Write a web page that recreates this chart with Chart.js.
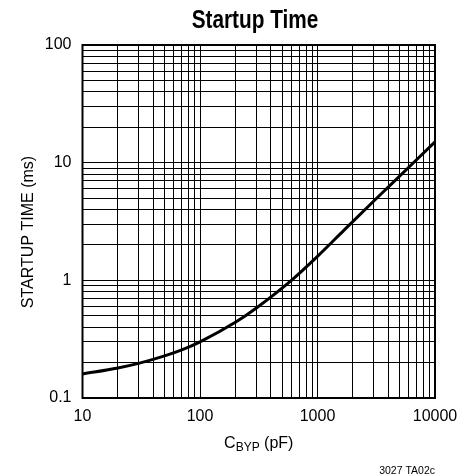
<!DOCTYPE html>
<html>
<head>
<meta charset="utf-8">
<script src="https://cdn.jsdelivr.net/npm/chart.js@4/dist/chart.umd.min.js"></script>
<style>
  html, body { margin: 0; padding: 0; background: #fff; }
  #wrap { width: 467px; height: 476px; }
</style>
</head>
<body>
<div id="wrap"><canvas id="c" width="467" height="476"></canvas></div>
<script>
// ---- Data ----
const capacitancePF = [10, 20, 30, 50, 70, 100, 200, 300, 600, 1000, 1700, 3000, 4000, 10000];
const startupTimeMs = [0.16, 0.18, 0.197, 0.228, 0.256, 0.30, 0.44, 0.58, 1.0, 1.6, 2.7, 4.7, 6.2, 15.0];

const xMajorTicks = [10, 100, 1000, 10000];
const yMajorTicks = [0.1, 1, 10, 100];
const minorMultipliers = [2, 3, 4, 5, 6, 7, 8, 9];

const chartTitle = 'Startup Time';
const yAxisTitle = 'STARTUP TIME (ms)';
const xAxisTitleMain = 'C';
const xAxisTitleSub = 'BYP';
const xAxisTitleUnit = ' (pF)';
const footnote = '3027 TA02c';

function buildLogTicks(majors) {
  const out = [];
  majors.forEach((m, i) => {
    out.push(m);
    if (i < majors.length - 1) minorMultipliers.forEach(k => out.push(m * k));
  });
  return out;
}
const xTicks = buildLogTicks(xMajorTicks);
const yTicks = buildLogTicks(yMajorTicks);

const tickFont = { family: "'Liberation Sans', Arial, sans-serif", size: 16 };

const textPlugin = {
  id: 'textPlugin',
  afterDraw(chart) {
    const ctx = chart.ctx;
    const a = chart.chartArea;
    ctx.save();
    // frame
    ctx.strokeStyle = '#000';
    ctx.lineWidth = 2;
    ctx.strokeRect(a.left, a.top, a.right - a.left, a.bottom - a.top);

    ctx.fillStyle = '#000';
    // title (condensed by horizontal scaling)
    ctx.save();
    ctx.font = "bold 26px 'Liberation Sans', Arial, sans-serif";
    ctx.textAlign = 'center';
    ctx.textBaseline = 'alphabetic';
    ctx.translate(255, 28);
    ctx.scale(0.8, 1);
    ctx.fillText(chartTitle, 0, 0);
    ctx.restore();

    // y axis title
    ctx.save();
    ctx.translate(29, 232);
    ctx.rotate(-Math.PI / 2);
    ctx.font = "16px 'Liberation Sans', Arial, sans-serif";
    ctx.textAlign = 'center';
    ctx.textBaseline = 'middle';
    ctx.fillText(yAxisTitle, 0, 0);
    ctx.restore();

    // x axis title with subscript
    const bigFont = "16px 'Liberation Sans', Arial, sans-serif";
    const subFont = "12px 'Liberation Sans', Arial, sans-serif";
    ctx.textAlign = 'left';
    ctx.textBaseline = 'alphabetic';
    ctx.font = bigFont; const w1 = ctx.measureText(xAxisTitleMain).width;
    ctx.font = subFont; const w2 = ctx.measureText(xAxisTitleSub).width;
    ctx.font = bigFont; const w3 = ctx.measureText(xAxisTitleUnit).width;
    let x0 = (a.left + a.right) / 2 - (w1 + w2 + w3) / 2;
    const base = 448;
    ctx.font = bigFont; ctx.fillText(xAxisTitleMain, x0, base);
    ctx.font = subFont; ctx.fillText(xAxisTitleSub, x0 + w1, base + 3);
    ctx.font = bigFont; ctx.fillText(xAxisTitleUnit, x0 + w1 + w2, base);

    // footnote
    ctx.font = "10.5px 'Liberation Sans', Arial, sans-serif";
    ctx.textAlign = 'right';
    ctx.fillText(footnote, a.right, 474);
    ctx.restore();
  }
};

new Chart(document.getElementById('c'), {
  type: 'scatter',
  data: {
    datasets: [{
      data: capacitancePF.map((x, i) => ({ x: x, y: startupTimeMs[i] })),
      showLine: true,
      borderColor: '#000',
      borderWidth: 3,
      pointRadius: 0,
      cubicInterpolationMode: 'monotone',
      fill: false
    }]
  },
  options: {
    responsive: false,
    animation: false,
    devicePixelRatio: 1,
    layout: { padding: { left: 0, right: 32, top: 45, bottom: 0 } },
    plugins: {
      legend: { display: false },
      title: { display: false },
      tooltip: { enabled: false }
    },
    scales: {
      x: {
        type: 'logarithmic',
        min: 10, max: 10000,
        afterBuildTicks: s => { s.ticks = xTicks.map(v => ({ value: v })); },
        afterFit: s => { s.height = 78; },
        ticks: {
          autoSkip: false, maxRotation: 0, minRotation: 0,
          color: '#000', font: tickFont, padding: 9,
          callback: v => xMajorTicks.includes(v) ? String(v) : ''
        },
        grid: { color: '#000', lineWidth: 1, drawTicks: false },
        border: { display: false }
      },
      y: {
        type: 'logarithmic',
        min: 0.1, max: 100,
        afterBuildTicks: s => { s.ticks = yTicks.map(v => ({ value: v })); },
        afterFit: s => { s.width = 82.5; },
        ticks: {
          autoSkip: false,
          color: '#000', font: tickFont, padding: 11,
          callback: v => yMajorTicks.includes(v) ? String(v) : ''
        },
        grid: { color: '#000', lineWidth: 1, drawTicks: false },
        border: { display: false }
      }
    }
  },
  plugins: [textPlugin]
});
</script>
</body>
</html>
